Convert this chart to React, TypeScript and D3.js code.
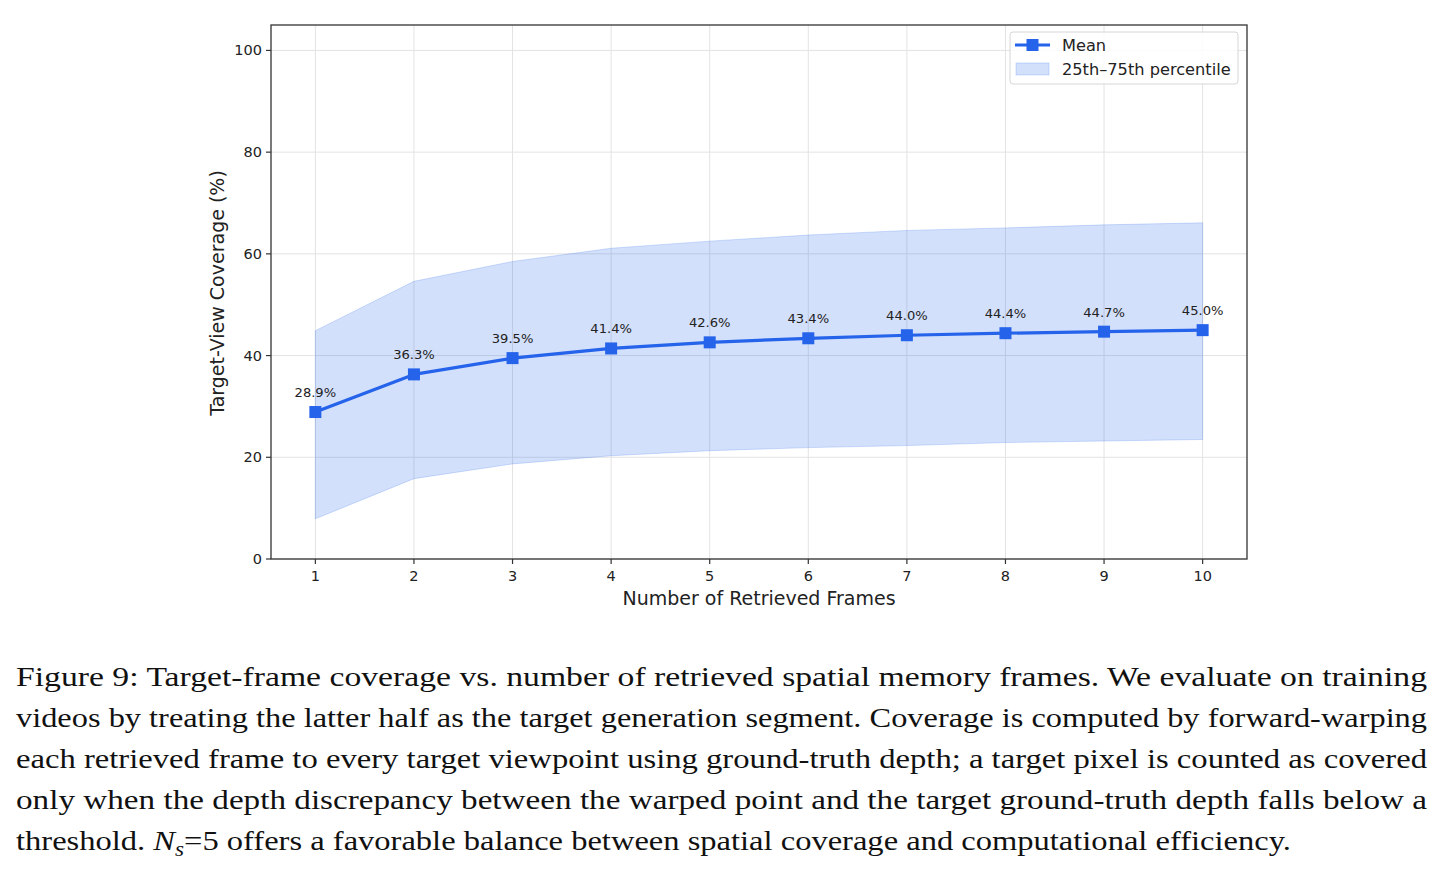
import React from "react";
import * as d3 from "d3";

const frames = [1, 2, 3, 4, 5, 6, 7, 8, 9, 10];
const meanCoverage = [28.9, 36.3, 39.5, 41.4, 42.6, 43.4, 44.0, 44.4, 44.7, 45.0];
const p25 = [7.9, 15.8, 18.7, 20.3, 21.3, 21.9, 22.3, 22.9, 23.2, 23.5];
const p75 = [44.9, 54.6, 58.5, 61.1, 62.5, 63.7, 64.6, 65.1, 65.7, 66.1];
const yTicks = [0, 20, 40, 60, 80, 100];
const captionLines = [
  "Figure 9: Target-frame coverage vs. number of retrieved spatial memory frames.  We evaluate on training",
  "videos by treating the latter half as the target generation segment. Coverage is computed by forward-warping",
  "each retrieved frame to every target viewpoint using ground-truth depth; a target pixel is counted as covered",
  "only when the depth discrepancy between the warped point and the target ground-truth depth falls below a",
];

const BLUE = "#2563eb";
const SANS = "DejaVu Sans, sans-serif";
const SERIF = "Liberation Serif, DejaVu Serif, serif";

export default function App() {
  const L = 271, R = 1247, T = 25, B = 559;
  const x = d3.scaleLinear().domain([0.55, 10.45]).range([L, R]);
  const y = d3.scaleLinear().domain([0, 105]).range([B, T]);
  const pts = frames.map((f, i) => ({ f, m: meanCoverage[i], lo: p25[i], hi: p75[i] }));
  const area = d3.area<any>().x(d => x(d.f)).y0(d => y(d.lo)).y1(d => y(d.hi));
  const line = d3.line<any>().x(d => x(d.f)).y(d => y(d.m));
  const k = 1.162;

  return (
    <svg width={1443} height={874} style={{ position: "absolute", left: 0, top: 0, background: "#fff" }}>
      <rect x={0} y={0} width={1443} height={874} fill="#fff" />
      {/* grid */}
      {frames.map(f => (
        <line key={"gx" + f} x1={x(f)} x2={x(f)} y1={T} y2={B} stroke="#e3e3e3" strokeWidth={1} />
      ))}
      {yTicks.map(t => (
        <line key={"gy" + t} x1={L} x2={R} y1={y(t)} y2={y(t)} stroke="#e3e3e3" strokeWidth={1} />
      ))}
      {/* band */}
      <path d={area(pts) || ""} fill={BLUE} fillOpacity={0.2} stroke={BLUE} strokeOpacity={0.2} strokeWidth={1} />
      {/* mean line */}
      <path d={line(pts) || ""} fill="none" stroke={BLUE} strokeWidth={3.2} strokeLinejoin="round" />
      {pts.map(p => (
        <rect key={"m" + p.f} x={x(p.f) - 6} y={y(p.m) - 6} width={12} height={12} fill={BLUE} />
      ))}
      {pts.map(p => (
        <text key={"a" + p.f} x={x(p.f)} y={y(p.m) - 15} textAnchor="middle" fontFamily={SANS} fontSize={13.1} fill="#222">
          {p.m.toFixed(1)}%
        </text>
      ))}
      {/* spines */}
      <rect x={L} y={T} width={R - L} height={B - T} fill="none" stroke="#333" strokeWidth={1.3} />
      {/* x ticks */}
      {frames.map(f => (
        <g key={"xt" + f}>
          <line x1={x(f)} x2={x(f)} y1={B} y2={B + 5} stroke="#333" strokeWidth={1.2} />
          <text x={x(f)} y={B + 22} textAnchor="middle" fontFamily={SANS} fontSize={14.5} fill="#222">{f}</text>
        </g>
      ))}
      {yTicks.map(t => (
        <g key={"yt" + t}>
          <line x1={L - 5} x2={L} y1={y(t)} y2={y(t)} stroke="#333" strokeWidth={1.2} />
          <text x={L - 9} y={y(t) + 5} textAnchor="end" fontFamily={SANS} fontSize={14.5} fill="#222">{t}</text>
        </g>
      ))}
      <text x={(L + R) / 2} y={605} textAnchor="middle" fontFamily={SANS} fontSize={19} fill="#222">Number of Retrieved Frames</text>
      <text transform={`translate(224, ${(T + B) / 2 + 1}) rotate(-90)`} textAnchor="middle" fontFamily={SANS} fontSize={19} fill="#222">Target-View Coverage (%)</text>
      {/* legend */}
      <rect x={1010} y={32} width={228} height={52} rx={3} fill="#fff" fillOpacity={0.85} stroke="#d6d6d6" strokeWidth={1} />
      <line x1={1015} x2={1050} y1={45} y2={45} stroke={BLUE} strokeWidth={3.2} />
      <rect x={1026.5} y={39} width={12} height={12} fill={BLUE} />
      <text x={1062} y={51} fontFamily={SANS} fontSize={16.2} fill="#222">Mean</text>
      <rect x={1016} y={63} width={33} height={12} fill={BLUE} fillOpacity={0.2} stroke={BLUE} strokeOpacity={0.2} />
      <text x={1062} y={74.5} fontFamily={SANS} fontSize={16.2} fill="#222">25th–75th percentile</text>
      {/* caption */}
      {captionLines.map((s, i) => (
        <text key={"c" + i} x={16} y={686 + i * 41} textLength={1411} lengthAdjust="spacingAndGlyphs" fontFamily={SERIF} fontSize={28} fill="#111">{s}</text>
      ))}
      <g transform={`translate(16, 850) scale(${k}, 1)`}>
        <text x={0} y={0} fontFamily={SERIF} fontSize={28} fill="#111">
          threshold.{" "}
          <tspan fontStyle="italic">N</tspan>
          <tspan fontStyle="italic" fontSize={20} dy={6}>s</tspan>
          <tspan dy={-6}>=5 offers a favorable balance between spatial coverage and computational efficiency.</tspan>
        </text>
      </g>
    </svg>
  );
}
